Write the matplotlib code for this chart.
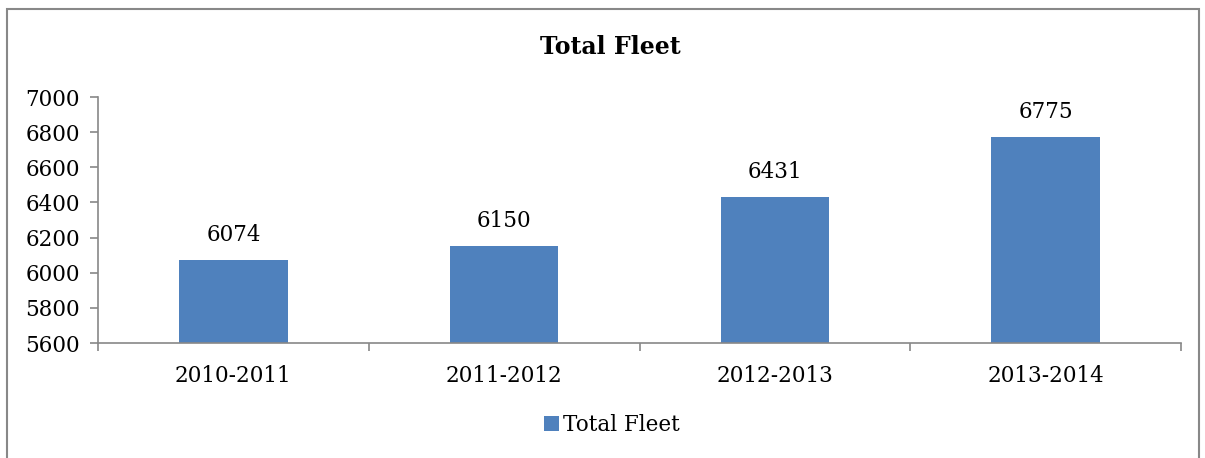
import numpy as np
import matplotlib.pyplot as plt
from matplotlib.patches import Rectangle

# Dados do gráfico
anos = ['2010-2011', '2011-2012', '2012-2013', '2013-2014']
frota_total = [6074, 6150, 6431, 6775]
ticks_y = [5600, 5800, 6000, 6200, 6400, 6600, 6800, 7000]

plt.rcParams['font.family'] = ['DejaVu Serif']
cor_barra = '#4F81BD'
cinza = '#888888'

W, H = 1205, 458
fig = plt.figure(figsize=(W / 100, H / 100), dpi=100)

# Eixo principal posicionado em pixels
esq, dir_, base, topo = 98, 1181, 343, 97
ax = fig.add_axes([esq / W, 1 - base / H, (dir_ - esq) / W, (base - topo) / H])

x = np.arange(len(anos))
barras = ax.bar(x, frota_total, width=0.4, color=cor_barra, label='Total Fleet', zorder=2)

ax.set_xlim(-0.5, len(anos) - 0.5)
ax.set_ylim(ticks_y[0], ticks_y[-1])
ax.set_yticks(ticks_y)
ax.set_xticks(x)
ax.set_xticklabels(anos)

# Ticks das categorias nas divisas
ax.set_xticks(np.arange(len(anos) + 1) - 0.5, minor=True)
ax.tick_params(axis='x', which='major', length=0, pad=16, labelsize=15.5)
ax.tick_params(axis='x', which='minor', length=6, color=cinza, width=1.2)
ax.tick_params(axis='y', length=6, color=cinza, width=1.2, pad=7, labelsize=15.5)

for lado in ['top', 'right']:
    ax.spines[lado].set_visible(False)
for lado in ['left', 'bottom']:
    ax.spines[lado].set_color(cinza)
    ax.spines[lado].set_linewidth(1.2)

# Rótulos de valor acima das barras
for xi, v in zip(x, frota_total):
    ax.annotate(str(v), (xi, v), xytext=(0, 10), textcoords='offset points',
                ha='center', va='bottom', fontsize=15.5)

fig.text(610 / W, 1 - 47 / H, 'Total Fleet', ha='center', va='center',
         fontsize=17, fontweight='bold')

fig.legend(handles=[barras], loc='center', bbox_to_anchor=(612 / W, 1 - 425 / H),
           frameon=False, fontsize=15.5, handlelength=0.7, handleheight=0.7,
           handletextpad=0.2)

# Moldura externa do gráfico
moldura = Rectangle((7 / W, -0.05), (1199 - 7) / W, 1.05 - 9 / H,
                    transform=fig.transFigure, fill=False, edgecolor=cinza, lw=1.5)
fig.patches.append(moldura)

fig.savefig('out.png', dpi=100)
